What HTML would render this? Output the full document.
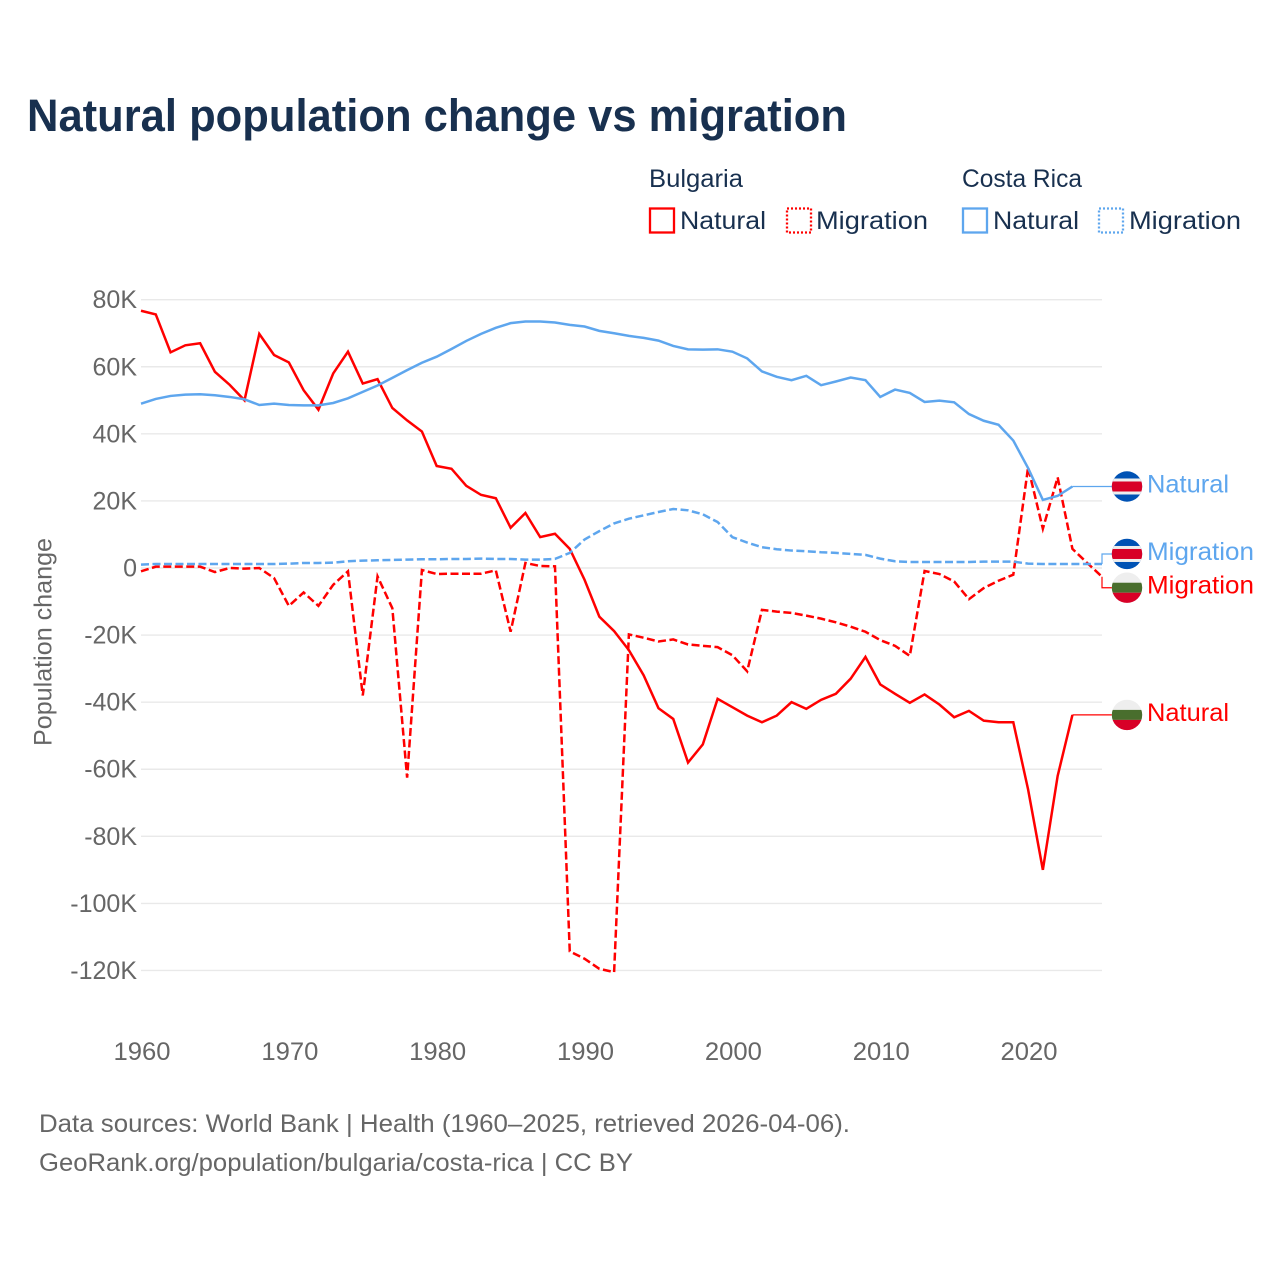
<!DOCTYPE html>
<html lang="en">
<head>
<meta charset="utf-8">
<title>Natural population change vs migration</title>
<style>
html,body{margin:0;padding:0;background:#fff;}
svg{display:block;font-family:"Liberation Sans",sans-serif;}
</style>
</head>
<body>
<svg id="chart" width="1280" height="1280" viewBox="0 0 1280 1280" xmlns="http://www.w3.org/2000/svg">
  <defs>
    <clipPath id="flag-clip"><circle cx="0" cy="0" r="15.2"/></clipPath>
    <g id="flag-cr">
      <g clip-path="url(#flag-clip)">
        <rect x="-16" y="-16" width="32" height="32" fill="#0052b4"/>
        <rect x="-16" y="-8" width="32" height="16" fill="#eeeeee"/>
        <rect x="-16" y="-5" width="32" height="10" fill="#d80027"/>
      </g>
    </g>
    <g id="flag-bg">
      <g clip-path="url(#flag-clip)">
        <rect x="-16" y="-16" width="32" height="32" fill="#eeeeee"/>
        <rect x="-16" y="-5" width="32" height="10" fill="#496e2d"/>
        <rect x="-16" y="5" width="32" height="11" fill="#d80027"/>
      </g>
    </g>
  </defs>
  <text x="27" y="131" font-size="45" font-weight="700" fill="#18304f" textLength="820" lengthAdjust="spacingAndGlyphs">Natural population change vs migration</text>

  <g font-size="25" fill="#18304f">
    <text x="649" y="187" textLength="94" lengthAdjust="spacingAndGlyphs">Bulgaria</text>
    <text x="962" y="187" textLength="120" lengthAdjust="spacingAndGlyphs">Costa Rica</text>
    <rect x="650" y="208.5" width="24" height="24" fill="none" stroke="#ff0000" stroke-width="2.3"/>
    <text x="680" y="229" textLength="86" lengthAdjust="spacingAndGlyphs">Natural</text>
    <rect x="787" y="208.5" width="24" height="24" fill="none" stroke="#ff0000" stroke-width="2.3" stroke-dasharray="2 2"/>
    <text x="816" y="229" textLength="112" lengthAdjust="spacingAndGlyphs">Migration</text>
    <rect x="963" y="208.5" width="24" height="24" fill="none" stroke="#5ea6ee" stroke-width="2.3"/>
    <text x="993" y="229" textLength="86" lengthAdjust="spacingAndGlyphs">Natural</text>
    <rect x="1099" y="208.5" width="24" height="24" fill="none" stroke="#5ea6ee" stroke-width="2.3" stroke-dasharray="2 2"/>
    <text x="1129" y="229" textLength="112" lengthAdjust="spacingAndGlyphs">Migration</text>
  </g>

  <g id="grid"></g>
  <g id="yticks" font-size="25" fill="#666666" text-anchor="end"></g>
  <g id="xticks" font-size="25" fill="#666666" text-anchor="middle"></g>
  <text transform="translate(51.5,642) rotate(-90)" text-anchor="middle" font-size="25" fill="#666666" textLength="208" lengthAdjust="spacingAndGlyphs">Population change</text>
  <g id="series"></g>
  <g id="labels" font-size="25"></g>

  <text x="39" y="1132" font-size="25" fill="#666666" textLength="811" lengthAdjust="spacingAndGlyphs">Data sources: World Bank | Health (1960–2025, retrieved 2026-04-06).</text>
  <text x="39" y="1171" font-size="25" fill="#666666" textLength="594" lengthAdjust="spacingAndGlyphs">GeoRank.org/population/bulgaria/costa-rica | CC BY</text>
</svg>
<script>
const years = [1960,1961,1962,1963,1964,1965,1966,1967,1968,1969,
  1970,1971,1972,1973,1974,1975,1976,1977,1978,1979,
  1980,1981,1982,1983,1984,1985,1986,1987,1988,1989,
  1990,1991,1992,1993,1994,1995,1996,1997,1998,1999,
  2000,2001,2002,2003,2004,2005,2006,2007,2008,2009,
  2010,2011,2012,2013,2014,2015,2016,2017,2018,2019,
  2020,2021,2022,2023,2024,2025];

const bulgariaNatural = [76.7,75.6,64.3,66.4,67,58.5,54.6,50,69.8,63.5,
  61.3,53,47.2,58,64.5,55,56.3,47.7,44,40.7,
  30.4,29.6,24.5,21.8,20.8,12,16.4,9.2,10.2,5.7,
  -3.5,-14.5,-18.8,-24.5,-32,-41.8,-45,-58,-52.6,-39,
  -41.5,-44,-46,-44,-40,-42,-39.3,-37.5,-33,-26.5,
  -34.7,-37.5,-40.2,-37.7,-40.7,-44.5,-42.6,-45.5,-46,-46,
  -66,-90,-62,-43.8];

const bulgariaMigration = [-1,0.4,0.4,0.4,0.4,-1.2,0,-0.2,0,-3,
  -11.3,-7.3,-11.3,-5,-1,-38,-2.5,-12,-62.5,-0.6,
  -1.8,-1.7,-1.7,-1.7,-0.7,-19,1.5,0.6,0.5,-114.3,
  -116.5,-119.5,-120.5,-19.8,-20.8,-21.9,-21.3,-22.8,-23.2,-23.6,
  -26,-30.8,-12.5,-13,-13.4,-14.2,-15.1,-16.2,-17.5,-19,
  -21.5,-23.2,-26.2,-0.9,-1.8,-4,-9.3,-6,-3.8,-2,
  30,11.7,27,5.7,1.5,-2.6];

const costaRicaNatural = [49,50.4,51.3,51.7,51.8,51.5,51,50.3,48.6,49,
  48.6,48.5,48.5,49.2,50.6,52.5,54.4,56.7,59,61.2,
  63,65.3,67.7,69.8,71.6,73,73.5,73.5,73.2,72.5,
  72,70.7,70,69.2,68.6,67.8,66.2,65.2,65.1,65.2,
  64.5,62.5,58.6,57,56,57.3,54.5,55.6,56.8,56,
  51,53.2,52.2,49.5,49.9,49.4,45.9,43.9,42.7,38,
  29.8,20.3,21.5,24.3];

const costaRicaMigration = [1,1.2,1.2,1.2,1.2,1.2,1.2,1.2,1.2,1.2,
  1.3,1.5,1.5,1.6,2,2.2,2.3,2.4,2.5,2.6,
  2.6,2.7,2.7,2.8,2.7,2.7,2.5,2.5,2.7,4.5,
  8.5,11,13.3,14.7,15.7,16.7,17.6,17.2,16,13.7,
  9.2,7.6,6.2,5.6,5.2,5,4.7,4.5,4.2,3.9,
  2.8,2,1.8,1.8,1.8,1.8,1.8,1.9,1.9,1.9,
  1.3,1.2,1.2,1.2,1.2,1.2];

const yTickValues = [80,60,40,20,0,-20,-40,-60,-80,-100,-120];
const yTickLabels = ["80K","60K","40K","20K","0","-20K","-40K","-60K","-80K","-100K","-120K"];
const xTickValues = [1960,1970,1980,1990,2000,2010,2020];
const xTickLabels = ["1960","1970","1980","1990","2000","2010","2020"];

const NS = 'http://www.w3.org/2000/svg';
const xScale = function (yr) { return 141 + (yr - 1960) * (961 / 65); };
const yScale = function (v) { return 568 - v * 3.354; };

function make(tag, attrs, parent) {
  const el = document.createElementNS(NS, tag);
  for (const k in attrs) el.setAttribute(k, attrs[k]);
  parent.appendChild(el);
  return el;
}

const gridG = document.getElementById('grid');
const yG = document.getElementById('yticks');
yTickValues.forEach(function (v, i) {
  const gl = make('line', {x1: 141, x2: 1102, y1: yScale(v), y2: yScale(v), stroke: '#e9e9e9', 'stroke-width': 1.4}, gridG);
  
  
  const t = make('text', {x: 137, y: yScale(v) + 8.5}, yG);
  
  
  t.textContent = yTickLabels[i];
});

const xG = document.getElementById('xticks');
xTickValues.forEach(function (yr, i) {
  const t = make('text', {x: xScale(yr) + 1, y: 1060, textLength: 57, lengthAdjust: 'spacingAndGlyphs'}, xG);
  
  
  t.textContent = xTickLabels[i];
});

const seriesG = document.getElementById('series');
const labelsG = document.getElementById('labels');

function drawSeries(values, color, dashed, name) {
  const d = values.map(function (v, i) {
    return (i ? 'L' : 'M') + xScale(years[i]).toFixed(2) + ' ' + yScale(v).toFixed(2);
  }).join('');
  const p = make('path', {d: d, fill: 'none', stroke: color, 'stroke-width': 2.5, 'stroke-linejoin': 'miter'}, seriesG);
  if (dashed) p.setAttribute('stroke-dasharray', '8 3.5');
  
  
}

function drawEnd(values, color, flag, text, width, dodge, name) {
  const n = values.length - 1;
  const lx = xScale(years[n]);
  const ly = yScale(values[n]);
  const fy = ly + dodge;
  const pts = dodge === 0
    ? 'M' + lx + ' ' + ly + 'L1113 ' + fy
    : 'M' + lx + ' ' + ly + 'L1102 ' + ly + 'L1102 ' + fy + 'L1113 ' + fy;
  const c = make('path', {d: pts, fill: 'none', stroke: color, 'stroke-width': 1.2}, labelsG);
  
  
  const u = make('use', {href: '#' + flag, x: 1127, y: fy}, labelsG);
  
  
  const t = make('text', {x: 1147, y: fy + 6, fill: color, textLength: width, lengthAdjust: 'spacingAndGlyphs'}, labelsG);
  
  
  t.textContent = text;
}

drawSeries(bulgariaMigration, '#ff0000', true, 'line-bulgaria-migration');
drawSeries(bulgariaNatural, '#ff0000', false, 'line-bulgaria-natural');
drawSeries(costaRicaMigration, '#5ea6ee', true, 'line-costa-rica-migration');
drawSeries(costaRicaNatural, '#5ea6ee', false, 'line-costa-rica-natural');

drawEnd(costaRicaNatural, '#5ea6ee', 'flag-cr', 'Natural', 82, 0, 'end-costa-rica-natural');
drawEnd(costaRicaMigration, '#5ea6ee', 'flag-cr', 'Migration', 107, -10, 'end-costa-rica-migration');
drawEnd(bulgariaMigration, '#ff0000', 'flag-bg', 'Migration', 107, 11, 'end-bulgaria-migration');
drawEnd(bulgariaNatural, '#ff0000', 'flag-bg', 'Natural', 82, 0, 'end-bulgaria-natural');
</script>
</body>
</html>
